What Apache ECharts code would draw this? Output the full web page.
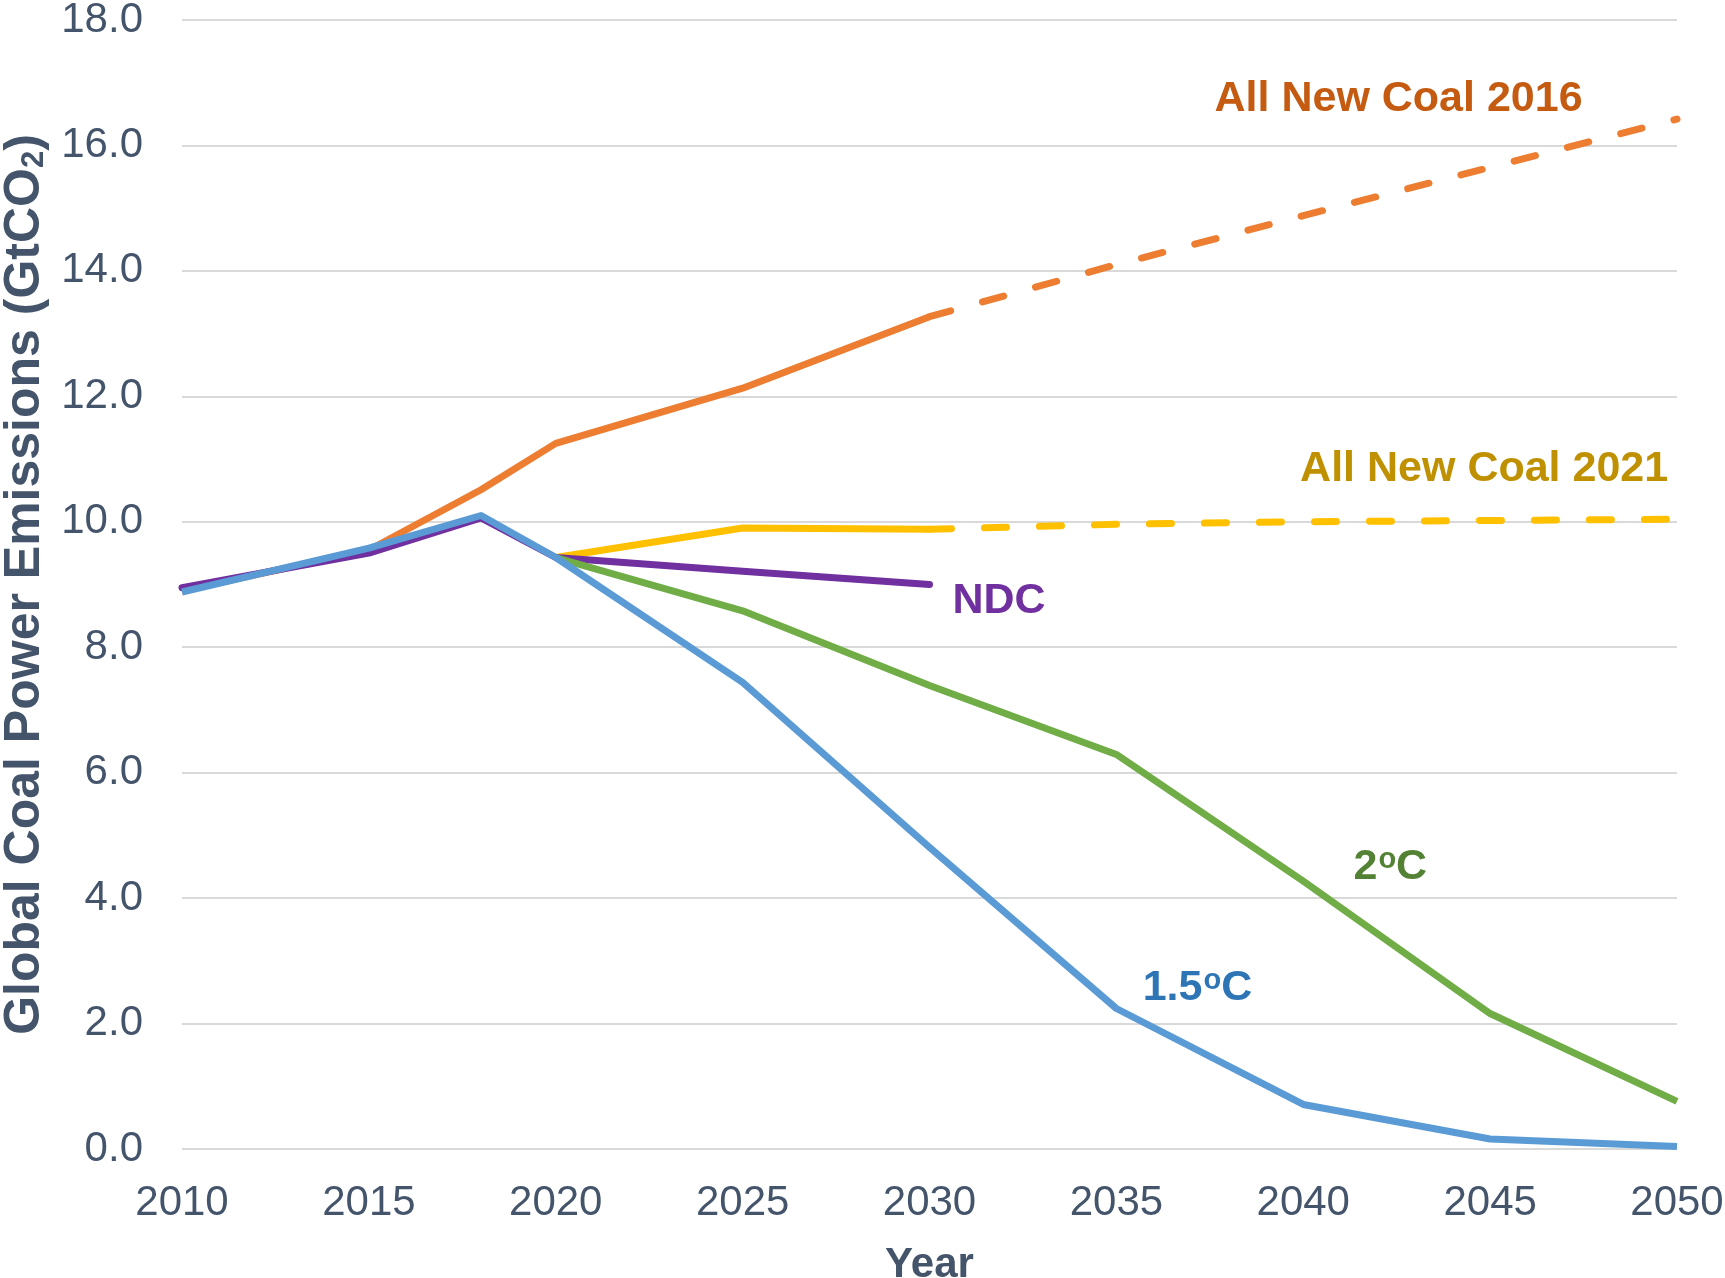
<!DOCTYPE html>
<html>
<head>
<meta charset="utf-8">
<script src="https://cdn.jsdelivr.net/npm/echarts@6/dist/echarts.min.js"></script>
<style>
html,body{margin:0;padding:0;background:#fff;}
#chart{width:1725px;height:1278px;}
</style>
</head>
<body>
<div id="chart"></div>
<script>
// ---- data ----
const yearsSolid = [2010, 2015, 2018, 2020, 2025, 2030];
const yearsProj = [2030, 2035, 2040, 2045, 2050];
const yearsBranch = [2020, 2025, 2030];
const yearsBranchFull = [2020, 2025, 2030, 2035, 2040, 2045, 2050];
const yearsAll = [2010, 2015, 2018, 2020, 2025, 2030, 2035, 2040, 2045, 2050];

const coal2016Solid = [8.90, 9.55, 10.51, 11.25, 12.13, 13.27];
const coal2016Proj = [13.27, 14.10, 14.88, 15.65, 16.42];
const coal2021Solid = [9.43, 9.90, 9.88];
const coal2021Proj = [9.88, 9.96, 10.00, 10.02, 10.04];
const ndcValues = [8.95, 9.50, 10.06, 9.43, 9.21, 9.00];
const twoDegValues = [9.43, 8.58, 7.39, 6.29, 4.27, 2.16, 0.76];
const onePointFiveValues = [8.88, 9.58, 10.10, 9.43, 7.44, 4.81, 2.24, 0.71, 0.16, 0.04];

const yTicks = [0, 2, 4, 6, 8, 10, 12, 14, 16, 18];
const xTicks = [2010, 2015, 2020, 2025, 2030, 2035, 2040, 2045, 2050];

// label anchors (data coordinates)
const labelAnchors = {
  coal2016: [2042.55, 16.74],
  coal2021: [2044.84, 10.84],
  ndc: [2031.86, 8.74],
  twoDeg: [2042.33, 4.49],
  onePointFive: [2037.17, 2.56]
};

const FONT = "'Liberation Sans', Arial, Helvetica, sans-serif";
const TXT = '#44546A';

function pairs(xs, ys) { return xs.map((x, i) => [x, ys[i]]); }

function annot(coord, text, color) {
  return {
    symbol: 'circle',
    symbolSize: 1,
    itemStyle: { color: 'rgba(0,0,0,0)' },
    silent: true,
    data: [{ coord: coord, value: 0 }],
    label: {
      show: true,
      position: 'inside',
      formatter: text,
      fontSize: 43,
      fontWeight: 'bold',
      fontFamily: FONT,
      color: color,
      rich: {
        sup: { fontSize: 29, lineHeight: 8, fontWeight: 'bold', fontFamily: FONT, color: color, verticalAlign: 'top', padding: [0, 0, 0, 1] }
      }
    }
  };
}

function lineSeries(name, data, color, opts) {
  opts = opts || {};
  return Object.assign({
    name: name,
    type: 'line',
    data: data,
    showSymbol: false,
    symbol: 'none',
    silent: true,
    lineStyle: { color: color, width: 7, type: opts.dash ? [22, 33] : 'solid', cap: opts.cap || 'butt', join: 'round' },
    z: opts.z || 2
  }, opts.extra || {});
}

const chart = echarts.init(document.getElementById('chart'), null, { renderer: 'canvas' });

const option = {
  animation: false,
  backgroundColor: '#ffffff',
  textStyle: { fontFamily: FONT },
  grid: { left: 182, right: 48, top: 20, bottom: 129, containLabel: false, outerBoundsMode: 'none' },
  xAxis: {
    type: 'value',
    min: xTicks[0],
    max: xTicks[xTicks.length - 1],
    interval: 5,
    axisLine: { show: false },
    axisTick: { show: false },
    splitLine: { show: false },
    axisLabel: {
      formatter: v => String(v),
      fontSize: 42,
      fontFamily: FONT,
      color: TXT,
      margin: 33
    },
    name: 'Year',
    nameLocation: 'middle',
    nameGap: 95,
    nameTextStyle: { fontSize: 42, fontWeight: 'bold', color: TXT, fontFamily: FONT }
  },
  yAxis: {
    type: 'value',
    min: yTicks[0],
    max: yTicks[yTicks.length - 1],
    interval: 2,
    axisLine: { show: false },
    axisTick: { show: false },
    splitLine: { lineStyle: { color: '#D9D9D9', width: 2 } },
    axisLabel: {
      formatter: v => v.toFixed(1),
      fontSize: 42,
      fontFamily: FONT,
      color: TXT,
      margin: 39
    },
    name: 'Global Coal Power Emissions (GtCO{sub|2})',
    nameLocation: 'middle',
    nameRotate: 90,
    nameGap: 131,
    nameTextStyle: {
      fontSize: 50, fontWeight: 'bold', color: TXT, fontFamily: FONT,
      rich: {
        sub: { fontSize: 31, fontWeight: 'bold', color: TXT, fontFamily: FONT, verticalAlign: 'bottom' }
      }
    }
  },
  series: [
    lineSeries('All New Coal 2016 (proj)', pairs(yearsProj, coal2016Proj), '#ED7D31', { dash: true, cap: 'round', z: 2 }),
    lineSeries('All New Coal 2016', pairs(yearsSolid, coal2016Solid), '#ED7D31', { z: 3, extra: { markPoint: annot(labelAnchors.coal2016, 'All New Coal 2016', '#C55A11') } }),
    lineSeries('All New Coal 2021 (proj)', pairs(yearsProj, coal2021Proj), '#FFC000', { dash: true, cap: 'round', z: 2 }),
    lineSeries('All New Coal 2021', pairs(yearsBranch, coal2021Solid), '#FFC000', { z: 3, extra: { markPoint: annot(labelAnchors.coal2021, 'All New Coal 2021', '#BF9000') } }),
    lineSeries('NDC', pairs(yearsSolid, ndcValues), '#7030A0', { cap: 'round', z: 4, extra: { markPoint: annot(labelAnchors.ndc, 'NDC', '#7030A0') } }),
    lineSeries('2ºC', pairs(yearsBranchFull, twoDegValues), '#70AD47', { z: 5, extra: { markPoint: annot(labelAnchors.twoDeg, '2{sup|o}C', '#548235') } }),
    lineSeries('1.5ºC', pairs(yearsAll, onePointFiveValues), '#5B9BD5', { z: 6, extra: { markPoint: annot(labelAnchors.onePointFive, '1.5{sup|o}C', '#2E75B6') } })
  ]
};

chart.setOption(option);
</script>
</body>
</html>
